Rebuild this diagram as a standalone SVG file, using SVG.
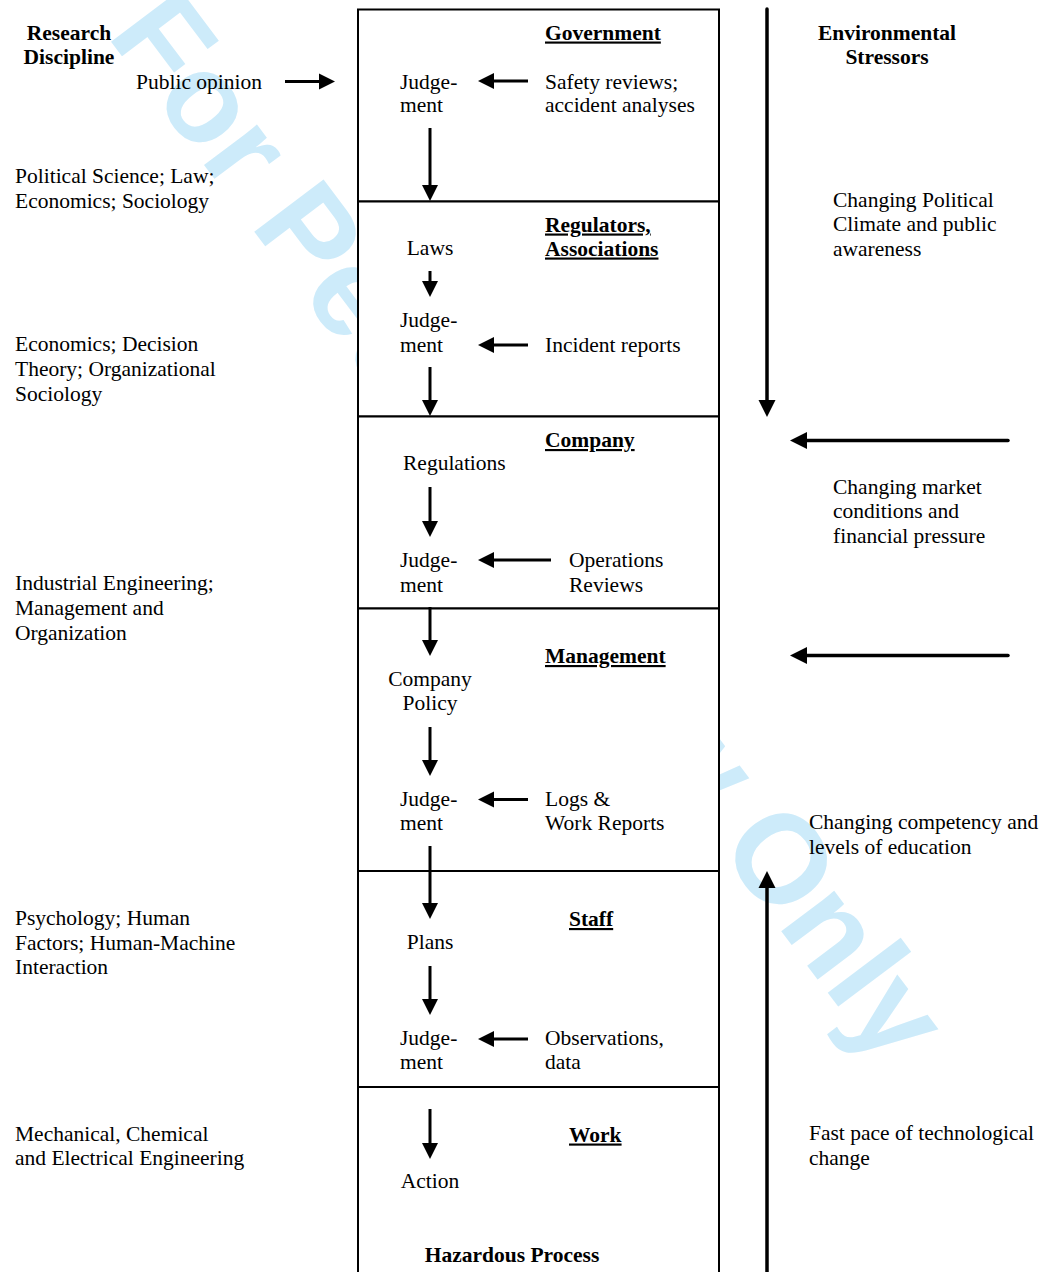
<svg xmlns="http://www.w3.org/2000/svg" width="1041" height="1272" viewBox="0 0 1041 1272">
  <style>
    text { font-family: "Liberation Serif", "Times New Roman", serif; font-size: 21.5px; fill: #000; }
    .b { font-weight: bold; }
    .u { font-weight: bold; text-decoration: underline; }
    .mid { text-anchor: middle; }
    .layer { fill: #fff; stroke: #000; stroke-width: 2; }
    .arr { stroke: #000; stroke-width: 3; fill: none; marker-end: url(#head); }
    .big { stroke: #000; stroke-width: 3.5; fill: none; stroke-linecap: round; marker-end: url(#bighead); }
    .wm { font-family: "Liberation Sans", Arial, sans-serif; font-size: 126px; font-weight: bold; fill: #cdebfa; }
  </style>
  <defs>
    <marker id="head" markerUnits="userSpaceOnUse" markerWidth="16" markerHeight="16" refX="0" refY="8" orient="auto" overflow="visible">
      <path d="M0,0 L16,8 L0,16 Z" fill="#000"/>
    </marker>
    <marker id="bighead" markerUnits="userSpaceOnUse" markerWidth="17" markerHeight="17" refX="0" refY="8.5" orient="auto" overflow="visible">
      <path d="M0,0 L17,8.5 L0,17 Z" fill="#000"/>
    </marker>
  </defs>

  <rect width="1041" height="1272" fill="#fff"/>

  <!-- review watermark -->
  <text class="wm" transform="translate(106,35) rotate(53)">For Peer Review Only</text>

  <!-- column headings and discipline / stressor notes -->
  <g id="discipline">
    <text class="b mid" x="69" y="40">Research</text>
    <text class="b mid" x="69" y="64">Discipline</text>
    <text x="136" y="88.5">Public opinion</text>
    <text x="15" y="183">Political Science; Law;</text>
    <text x="15" y="207.5">Economics; Sociology</text>
    <text x="15" y="350.5">Economics; Decision</text>
    <text x="15" y="375.5">Theory; Organizational</text>
    <text x="15" y="400.5">Sociology</text>
    <text x="15" y="589.5">Industrial Engineering;</text>
    <text x="15" y="614.5">Management and</text>
    <text x="15" y="639.5">Organization</text>
    <text x="15" y="925">Psychology; Human</text>
    <text x="15" y="949.5">Factors; Human-Machine</text>
    <text x="15" y="974">Interaction</text>
    <text x="15" y="1140.5">Mechanical, Chemical</text>
    <text x="15" y="1165">and Electrical Engineering</text>
  </g>

  <g id="stressors">
    <text class="b mid" x="887" y="40">Environmental</text>
    <text class="b mid" x="887" y="64">Stressors</text>
    <text x="833" y="207">Changing Political</text>
    <text x="833" y="231">Climate and public</text>
    <text x="833" y="256">awareness</text>
    <text x="833" y="493.5">Changing market</text>
    <text x="833" y="518">conditions and</text>
    <text x="833" y="543">financial pressure</text>
    <text x="809" y="829">Changing competency and</text>
    <text x="809" y="853.5">levels of education</text>
    <text x="809" y="1140">Fast pace of technological</text>
    <text x="809" y="1165">change</text>
  </g>

  <!-- system levels -->
  <g id="government">
    <rect class="layer" x="358" y="9.5" width="361" height="192"/>
    <text class="u" x="545" y="39.5">Government</text>
    <text x="400" y="89">Judge-</text>
    <text x="400" y="112">ment</text>
    <text x="545" y="89">Safety reviews;</text>
    <text x="545" y="112">accident analyses</text>
  </g>

  <g id="regulators">
    <rect class="layer" x="358" y="201.5" width="361" height="215"/>
    <text class="u" x="545" y="231.5">Regulators,</text>
    <text class="u" x="545" y="255.5">Associations</text>
    <text class="mid" x="430" y="255">Laws</text>
    <text x="400" y="327">Judge-</text>
    <text x="400" y="352">ment</text>
    <text x="545" y="352">Incident reports</text>
  </g>

  <g id="company">
    <rect class="layer" x="358" y="416.5" width="361" height="192"/>
    <text class="u" x="545" y="447">Company</text>
    <text x="403" y="470">Regulations</text>
    <text x="400" y="566.5">Judge-</text>
    <text x="400" y="591.5">ment</text>
    <text x="569" y="566.5">Operations</text>
    <text x="569" y="591.5">Reviews</text>
  </g>

  <g id="management">
    <rect class="layer" x="358" y="608.5" width="361" height="262.5"/>
    <text class="u" x="545" y="663">Management</text>
    <text class="mid" x="430" y="686">Company</text>
    <text class="mid" x="430" y="710">Policy</text>
    <text x="400" y="805.5">Judge-</text>
    <text x="400" y="830">ment</text>
    <text x="545" y="805.5">Logs &amp;</text>
    <text x="545" y="830">Work Reports</text>
  </g>

  <g id="staff">
    <rect class="layer" x="358" y="871" width="361" height="216"/>
    <text class="u" x="569" y="926">Staff</text>
    <text class="mid" x="430" y="949">Plans</text>
    <text x="400" y="1044.5">Judge-</text>
    <text x="400" y="1069">ment</text>
    <text x="545" y="1044.5">Observations,</text>
    <text x="545" y="1069">data</text>
  </g>

  <g id="work">
    <rect class="layer" x="358" y="1087" width="361" height="200"/>
    <text class="u" x="569" y="1141.5">Work</text>
    <text class="mid" x="430" y="1188">Action</text>
    <text class="b mid" x="512" y="1261.5">Hazardous Process</text>
  </g>

  <!-- connectors: lines stop at the arrowhead base, the marker draws the head -->
  <g id="connectors">
    <line class="arr" x1="285" y1="81.5" x2="319" y2="81.5"/>
    <line class="arr" x1="528" y1="81" x2="494" y2="81"/>
    <line class="arr" x1="430" y1="128" x2="430" y2="185"/>
    <line class="arr" x1="430" y1="271" x2="430" y2="281"/>
    <line class="arr" x1="528" y1="345" x2="494" y2="345"/>
    <line class="arr" x1="430" y1="367" x2="430" y2="400"/>
    <line class="arr" x1="430" y1="487" x2="430" y2="521"/>
    <line class="arr" x1="551" y1="560" x2="494" y2="560"/>
    <line class="arr" x1="430" y1="607" x2="430" y2="640"/>
    <line class="arr" x1="430" y1="727" x2="430" y2="760"/>
    <line class="arr" x1="528" y1="799.5" x2="494" y2="799.5"/>
    <line class="arr" x1="430" y1="846" x2="430" y2="903"/>
    <line class="arr" x1="430" y1="966" x2="430" y2="999"/>
    <line class="arr" x1="528" y1="1039" x2="494" y2="1039"/>
    <line class="arr" x1="430" y1="1109" x2="430" y2="1143"/>

    <line class="big" x1="767" y1="9" x2="767" y2="400"/>
    <line class="big" x1="1008" y1="440.5" x2="807" y2="440.5"/>
    <line class="big" x1="1008" y1="655.5" x2="807" y2="655.5"/>
    <line class="big" x1="767" y1="1280" x2="767" y2="888"/>
  </g>
</svg>
